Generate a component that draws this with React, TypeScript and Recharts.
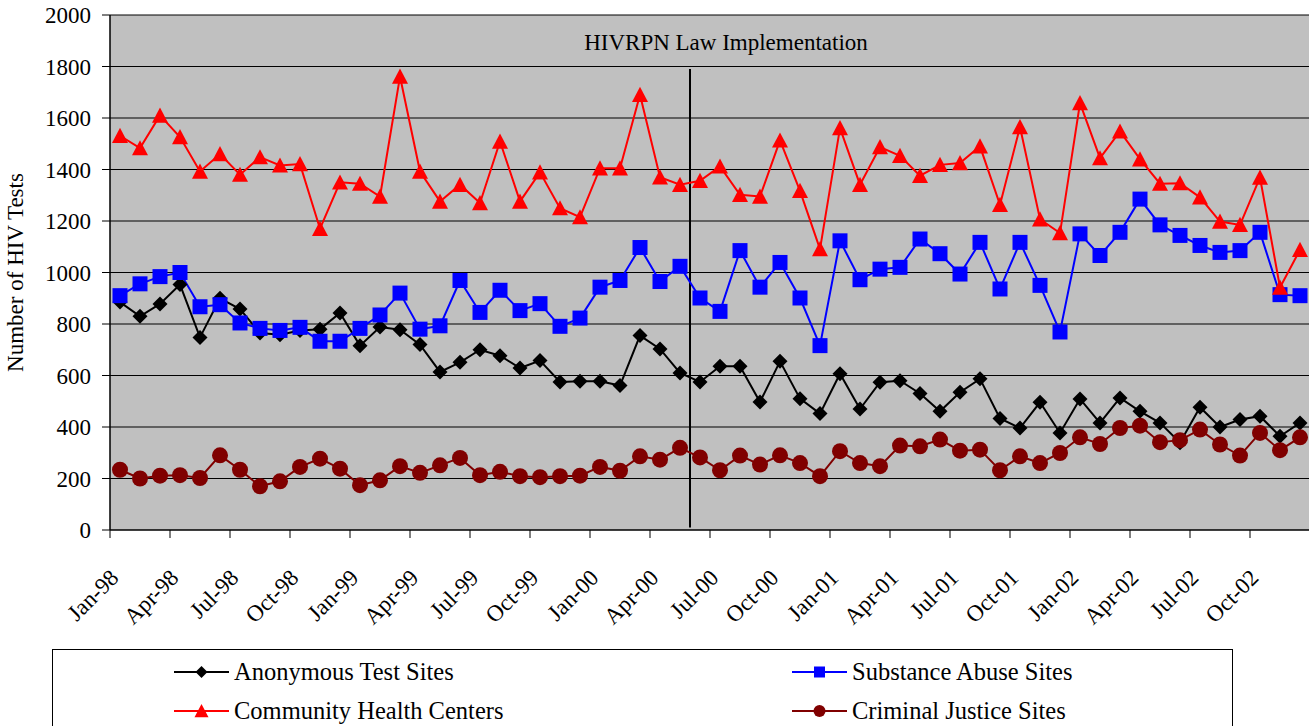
import React from "react";
import {
  LineChart,
  Line,
  XAxis,
  YAxis,
  CartesianGrid,
  ReferenceLine,
} from "recharts";

// ---------------------------------------------------------------------------
// Data (monthly HIV tests, Jan-98 .. Dec-02)
// ---------------------------------------------------------------------------

const months = [
  "Jan-98", "Feb-98", "Mar-98", "Apr-98", "May-98", "Jun-98", "Jul-98", "Aug-98", "Sep-98", "Oct-98", "Nov-98", "Dec-98",
  "Jan-99", "Feb-99", "Mar-99", "Apr-99", "May-99", "Jun-99", "Jul-99", "Aug-99", "Sep-99", "Oct-99", "Nov-99", "Dec-99",
  "Jan-00", "Feb-00", "Mar-00", "Apr-00", "May-00", "Jun-00", "Jul-00", "Aug-00", "Sep-00", "Oct-00", "Nov-00", "Dec-00",
  "Jan-01", "Feb-01", "Mar-01", "Apr-01", "May-01", "Jun-01", "Jul-01", "Aug-01", "Sep-01", "Oct-01", "Nov-01", "Dec-01",
  "Jan-02", "Feb-02", "Mar-02", "Apr-02", "May-02", "Jun-02", "Jul-02", "Aug-02", "Sep-02", "Oct-02", "Nov-02", "Dec-02",
];

const anonymousSites = [
  885, 830, 878, 953, 748, 900, 858, 765, 758, 775, 780, 843, 716, 788, 778,
  720, 614, 651, 700, 677, 629, 658, 575, 578, 578, 561, 755, 703, 610, 575,
  636, 636, 497, 655, 510, 452, 607, 470, 574, 580, 530, 461, 535, 587, 433,
  396, 496, 377, 509, 416, 513, 461, 416, 339, 477, 400, 429, 442, 364, 416,
];

const substanceSites = [
  910, 956, 984, 1000, 867, 875, 804, 783, 775, 787, 733, 733, 783, 835, 920,
  780, 793, 969, 845, 931, 852, 879, 791, 823, 943, 969, 1097, 965, 1024, 901,
  849, 1085, 943, 1039, 901, 716, 1123, 972, 1013, 1020, 1130, 1073, 994, 1117, 936,
  1117, 950, 769, 1150, 1066, 1156, 1285, 1185, 1144, 1105, 1078, 1085, 1156, 914, 910,
];

const healthCenters = [
  1531, 1483, 1610, 1526, 1392, 1460, 1380, 1448, 1416, 1421, 1170, 1350, 1345, 1295, 1761,
  1392, 1276, 1341, 1270, 1509, 1276, 1389, 1250, 1215, 1405, 1405, 1690, 1370, 1341, 1356,
  1412, 1302, 1295, 1513, 1317, 1091, 1561, 1341, 1487, 1453, 1376, 1418, 1425, 1490, 1263,
  1565, 1207, 1153, 1658, 1444, 1548, 1440, 1345, 1347, 1292, 1198, 1185, 1369, 942, 1088,
];

const justiceSites = [
  234, 200, 211, 213, 202, 290, 234, 170, 189, 245, 277, 238, 174, 193, 248,
  222, 251, 280, 213, 226, 209, 205, 209, 211, 245, 230, 286, 273, 319, 282,
  232, 289, 254, 290, 260, 209, 306, 260, 248, 328, 325, 351, 308, 312, 232,
  286, 260, 299, 360, 334, 396, 405, 341, 349, 390, 332, 289, 377, 310, 360,
];

// quarterly labels (Jan / Apr / Jul / Oct)
const labelTicks = [0, 3, 6, 9, 12, 15, 18, 21, 24, 27, 30, 33, 36, 39, 42, 45, 48, 51, 54, 57];
const yTicks = [0, 200, 400, 600, 800, 1000, 1200, 1400, 1600, 1800, 2000];

// law took effect between May-00 and Jun-00
const lawIndex = 28.5;
const lawLine = { from: 10, to: 1790 };

// ---------------------------------------------------------------------------
// Layout
// ---------------------------------------------------------------------------

const CHART_W = 1310;
const CHART_H = 726;
const Y_AXIS_W = 110;
const TOP = 15;
const X_AXIS_H = 196;
const PLOT_W = CHART_W - Y_AXIS_W;
const CAT_W = PLOT_W / months.length;
const FONT = '"Liberation Serif", "Times New Roman", serif';

const chartData = months.map((month, i) => ({
  idx: i,
  month,
  anonymous: anonymousSites[i],
  substance: substanceSites[i],
  health: healthCenters[i],
  justice: justiceSites[i],
}));

// ---------------------------------------------------------------------------
// Markers
// ---------------------------------------------------------------------------

type Shape = "diamond" | "square" | "triangle" | "circle";

function Marker({ cx, cy, shape, color, size }: { cx: number; cy: number; shape: Shape; color: string; size: number }) {
  const h = size / 2;
  if (shape === "diamond") {
    return <polygon points={`${cx},${cy - h} ${cx + h},${cy} ${cx},${cy + h} ${cx - h},${cy}`} fill={color} />;
  }
  if (shape === "square") {
    return <rect x={cx - h} y={cy - h} width={size} height={size} fill={color} />;
  }
  if (shape === "triangle") {
    return <polygon points={`${cx},${cy - h} ${cx + h},${cy + h * 0.9} ${cx - h},${cy + h * 0.9}`} fill={color} />;
  }
  return <circle cx={cx} cy={cy} r={h} fill={color} />;
}

const series: { key: string; name: string; color: string; shape: Shape; size: number; legendSize: number }[] = [
  { key: "anonymous", name: "Anonymous Test Sites", color: "#000000", shape: "diamond", size: 15, legendSize: 12 },
  { key: "substance", name: "Substance Abuse Sites", color: "#0000FF", shape: "square", size: 15, legendSize: 11 },
  { key: "health", name: "Community Health Centers", color: "#FF0000", shape: "triangle", size: 16, legendSize: 14 },
  { key: "justice", name: "Criminal Justice Sites", color: "#800000", shape: "circle", size: 16, legendSize: 12 },
];

// ---------------------------------------------------------------------------
// Axis tick
// ---------------------------------------------------------------------------

function MonthTick({ x, y, payload }: { x?: number; y?: number; payload?: { value: number } }) {
  if (x === undefined || y === undefined || !payload) return null;
  const half = CAT_W / 2;
  const ty = y + 49;
  return (
    <g>
      <line x1={x - half} x2={x - half} y1={y} y2={y + 8} stroke="#000" strokeWidth={1} />
      <text
        x={x}
        y={ty}
        transform={`rotate(-45 ${x} ${ty})`}
        textAnchor="end"
        fontSize={23}
        fontFamily={FONT}
        fill="#000"
      >
        {months[payload.value]}
      </text>
    </g>
  );
}

// ---------------------------------------------------------------------------
// Legend (boxed, two columns)
// ---------------------------------------------------------------------------

function LegendBox() {
  const cols = [121, 739];
  const rows = [22, 61];
  return (
    <div
      style={{
        position: "absolute",
        left: 52,
        top: 649,
        width: 1181,
        height: 100,
        border: "1px solid #000",
        background: "#fff",
        boxSizing: "border-box",
        fontFamily: FONT,
        fontSize: 24.5,
        color: "#000",
      }}
    >
      {series.map((s, i) => {
        const left = cols[i % 2];
        const top = rows[Math.floor(i / 2)];
        return (
          <div key={s.key} style={{ position: "absolute", left, top: top - 15, height: 30, display: "flex", alignItems: "center", whiteSpace: "nowrap" }}>
            <svg width={55} height={30} style={{ display: "block" }}>
              <line x1={0} x2={55} y1={15} y2={15} stroke={s.color} strokeWidth={2} />
              <Marker cx={27.5} cy={15} shape={s.shape} color={s.color} size={s.legendSize} />
            </svg>
            <span style={{ marginLeft: 5, lineHeight: "30px" }}>{s.name}</span>
          </div>
        );
      })}
    </div>
  );
}

// ---------------------------------------------------------------------------
// Chart
// ---------------------------------------------------------------------------

export default function App() {
  const labelY = TOP + (CHART_H - TOP - X_AXIS_H) / 2;
  return (
    <div style={{ position: "relative", width: 1309, height: 726, overflow: "hidden", background: "#fff" }}>
      <style>{"body{margin:0}"}</style>
      <LineChart
        width={CHART_W}
        height={CHART_H}
        data={chartData}
        margin={{ top: TOP, right: 0, bottom: 0, left: 0 }}
      >
        <CartesianGrid horizontal vertical={false} stroke="#000" strokeWidth={1} fill="#C0C0C0" fillOpacity={1} />
        <XAxis
          dataKey="idx"
          type="number"
          domain={[-0.5, months.length - 0.5]}
          ticks={labelTicks}
          interval={0}
          height={X_AXIS_H}
          tickSize={0}
          tickMargin={0}
          tickLine={false}
          axisLine={{ stroke: "#000", strokeWidth: 1 }}
          tick={<MonthTick />}
        />
        <YAxis
          type="number"
          domain={[0, 2000]}
          ticks={yTicks}
          interval={0}
          width={Y_AXIS_W}
          tickSize={8}
          tickMargin={11}
          tickLine={{ stroke: "#000" }}
          axisLine={{ stroke: "#000", strokeWidth: 1.5 }}
          tick={{ fill: "#000", fontSize: 23, fontFamily: FONT }}
          label={{
            content: () => (
              <text
                x={23}
                y={labelY}
                transform={`rotate(-90 23 ${labelY})`}
                textAnchor="middle"
                fontSize={23}
                fontFamily={FONT}
                fill="#000"
              >
                Number of HIV Tests
              </text>
            ),
          }}
        />
        <ReferenceLine
          segment={[
            { x: lawIndex, y: lawLine.to },
            { x: lawIndex, y: lawLine.from },
          ]}
          stroke="#000"
          strokeWidth={2}
          label={{
            content: (props: any) => {
              const vb = props.viewBox || {};
              const x = vb.x ?? vb.x1 ?? 0;
              const y = vb.y ?? Math.min(vb.y1 ?? 0, vb.y2 ?? 0);
              return (
                <text x={x + 36} y={y - 19} textAnchor="middle" fontSize={23} fontFamily={FONT} fill="#000">
                  HIVRPN Law Implementation
                </text>
              );
            },
          }}
        />
        {series.map((s) => (
          <Line
            key={s.key}
            type="linear"
            dataKey={s.key}
            name={s.name}
            stroke={s.color}
            strokeWidth={2}
            isAnimationActive={false}
            activeDot={false}
            dot={(props: any) => (
              <Marker
                key={`${s.key}-${props.index}`}
                cx={props.cx}
                cy={props.cy}
                shape={s.shape}
                color={s.color}
                size={s.size}
              />
            )}
          />
        ))}
      </LineChart>
      <LegendBox />
    </div>
  );
}
